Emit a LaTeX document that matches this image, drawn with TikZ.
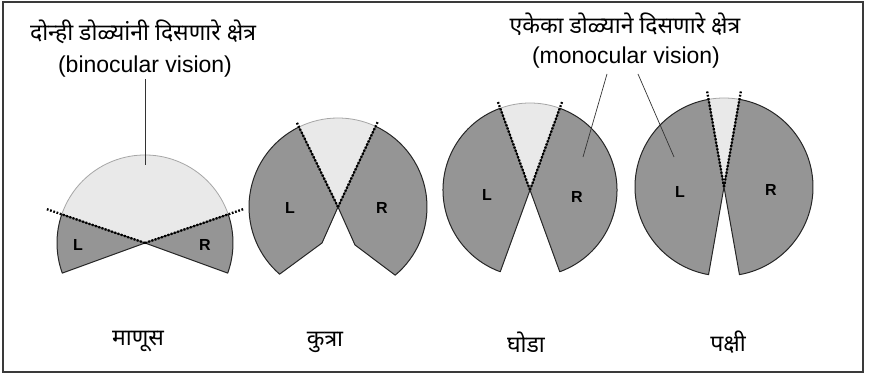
\documentclass[tikz,border=0pt]{standalone}
\usepackage{fontspec}
\setmainfont{Liberation Sans}
\newfontfamily\devfont[Script=Devanagari]{Noto Sans}
\usetikzlibrary{positioning,calc}
\definecolor{fielddark}{HTML}{959595}
\definecolor{fieldlight}{HTML}{E9E9E9}
\definecolor{framegray}{HTML}{3A3A3A}

\begin{document}
\begin{tikzpicture}[
    x=1pt, y=1pt,
    every node/.style={inner sep=1pt},
    darkpart/.style={fill=fielddark, draw=black!85, line width=1pt, line join=round},
    lightpart/.style={fill=fieldlight},
    lightarc/.style={draw=gray!70, line width=0.8pt},
    sightline/.style={draw=black, line width=2.3pt, dash pattern=on 1.8pt off 1.6pt},
    leader/.style={draw=black!80, line width=0.7pt},
    eyelabel/.style={font=\fontsize{16}{16}\selectfont\bfseries},
    devtext/.style={font=\devfont\fontsize{23}{26}\selectfont},
    entext/.style={font=\fontsize{23}{26}\selectfont},
]

% Frame
\useasboundingbox (0,0) rectangle (871,374);
\draw[framegray, line width=1.6pt] (3,2) rectangle (863,372);

% Human: wide binocular field
\coordinate (hum) at (145,131);
\fill[lightpart] (hum) -- ++(19:88) arc[start angle=19, end angle=161, radius=88] -- cycle;
\draw[lightarc] ($(hum)+(19:88)$) arc[start angle=19, end angle=161, radius=88];
\draw[darkpart] (hum) -- ++(161:88) arc[start angle=161, end angle=200, radius=88] -- cycle;
\draw[darkpart] (hum) -- ++(-20:88) arc[start angle=-20, end angle=19, radius=88] -- cycle;
\draw[sightline] (hum) -- ++(161:104);
\draw[sightline] (hum) -- ++(19:104);
\node[eyelabel] (humL) at (78,129) {L};
\node[eyelabel] (humR) at (205,129) {R};

% Dog
\coordinate (dog) at (338,167);
\fill[lightpart] (dog) -- ++(65:89) arc[start angle=65, end angle=116, radius=89] -- cycle;
\draw[lightarc] ($(dog)+(65:89)$) arc[start angle=65, end angle=116, radius=89];
\draw[darkpart] (dog) -- ++(116:89) arc[start angle=116, end angle=229, radius=89]
    -- (322,131) -- cycle;
\draw[darkpart] (dog) -- ++(65:89) arc[start angle=65, end angle=-50, radius=89]
    -- (355,129) -- cycle;
\draw[sightline] (dog) -- ++(116:95);
\draw[sightline] (dog) -- ++(65:95);
\node[eyelabel] (dogL) at (290,166) {L};
\node[eyelabel] (dogR) at (382,166) {R};

% Horse
\coordinate (horse) at (530,184);
\fill[lightpart] (horse) -- ++(70:87) arc[start angle=70, end angle=110, radius=87] -- cycle;
\draw[lightarc] ($(horse)+(70:87)$) arc[start angle=70, end angle=110, radius=87];
\draw[darkpart] (horse) -- ++(110:87) arc[start angle=110, end angle=250, radius=87] -- cycle;
\draw[darkpart] (horse) -- ++(-70:87) arc[start angle=-70, end angle=70, radius=87] -- cycle;
\draw[sightline] (horse) -- ++(110:94);
\draw[sightline] (horse) -- ++(70:94);
\node[eyelabel] (horseL) at (487,179) {L};
\node[eyelabel] (horseR) at (577,177) {R};

% Bird
\coordinate (bird) at (724,187);
\fill[lightpart] (bird) -- ++(80:89) arc[start angle=80, end angle=100, radius=89] -- cycle;
\draw[lightarc] ($(bird)+(80:89)$) arc[start angle=80, end angle=100, radius=89];
\draw[darkpart] (bird) -- ++(100:89) arc[start angle=100, end angle=260, radius=89] -- cycle;
\draw[darkpart] (bird) -- ++(-80:89) arc[start angle=-80, end angle=80, radius=89] -- cycle;
\draw[sightline] (bird) -- ++(100:97);
\draw[sightline] (bird) -- ++(80:97);
\node[eyelabel] (birdL) at (680,182) {L};
\node[eyelabel] (birdR) at (771,184) {R};

% Captions on top
\node[devtext] (binodev) at (143,342) {दोन्ही डोळ्यांनी दिसणारे क्षेत्र};
\node[entext] (binoen) at (145,307) {(binocular vision)};
\node[devtext] (monodev) at (625,350) {एकेका डोळ्याने दिसणारे क्षेत्र};
\node[entext] (monoen) at (626,316) {(monocular vision)};

% Leaders
\coordinate (binoend) at (145,209);
\coordinate (monoa) at (607,300);
\coordinate (monoaend) at (583,217);
\coordinate (monob) at (638,300);
\coordinate (monobend) at (674,217);
\draw[leader] (binoen.south) -- (binoend);
\draw[leader] (monoa) -- (monoaend);
\draw[leader] (monob) -- (monobend);

% Names below
\node[devtext] (man) at (138,32) {माणूस};
\node[devtext] (dogname) at (325,32) {कुत्रा};
\node[devtext] (horsename) at (526,32) {घोडा};
\node[devtext] (birdname) at (728,32) {पक्षी};

\end{tikzpicture}
\end{document}
